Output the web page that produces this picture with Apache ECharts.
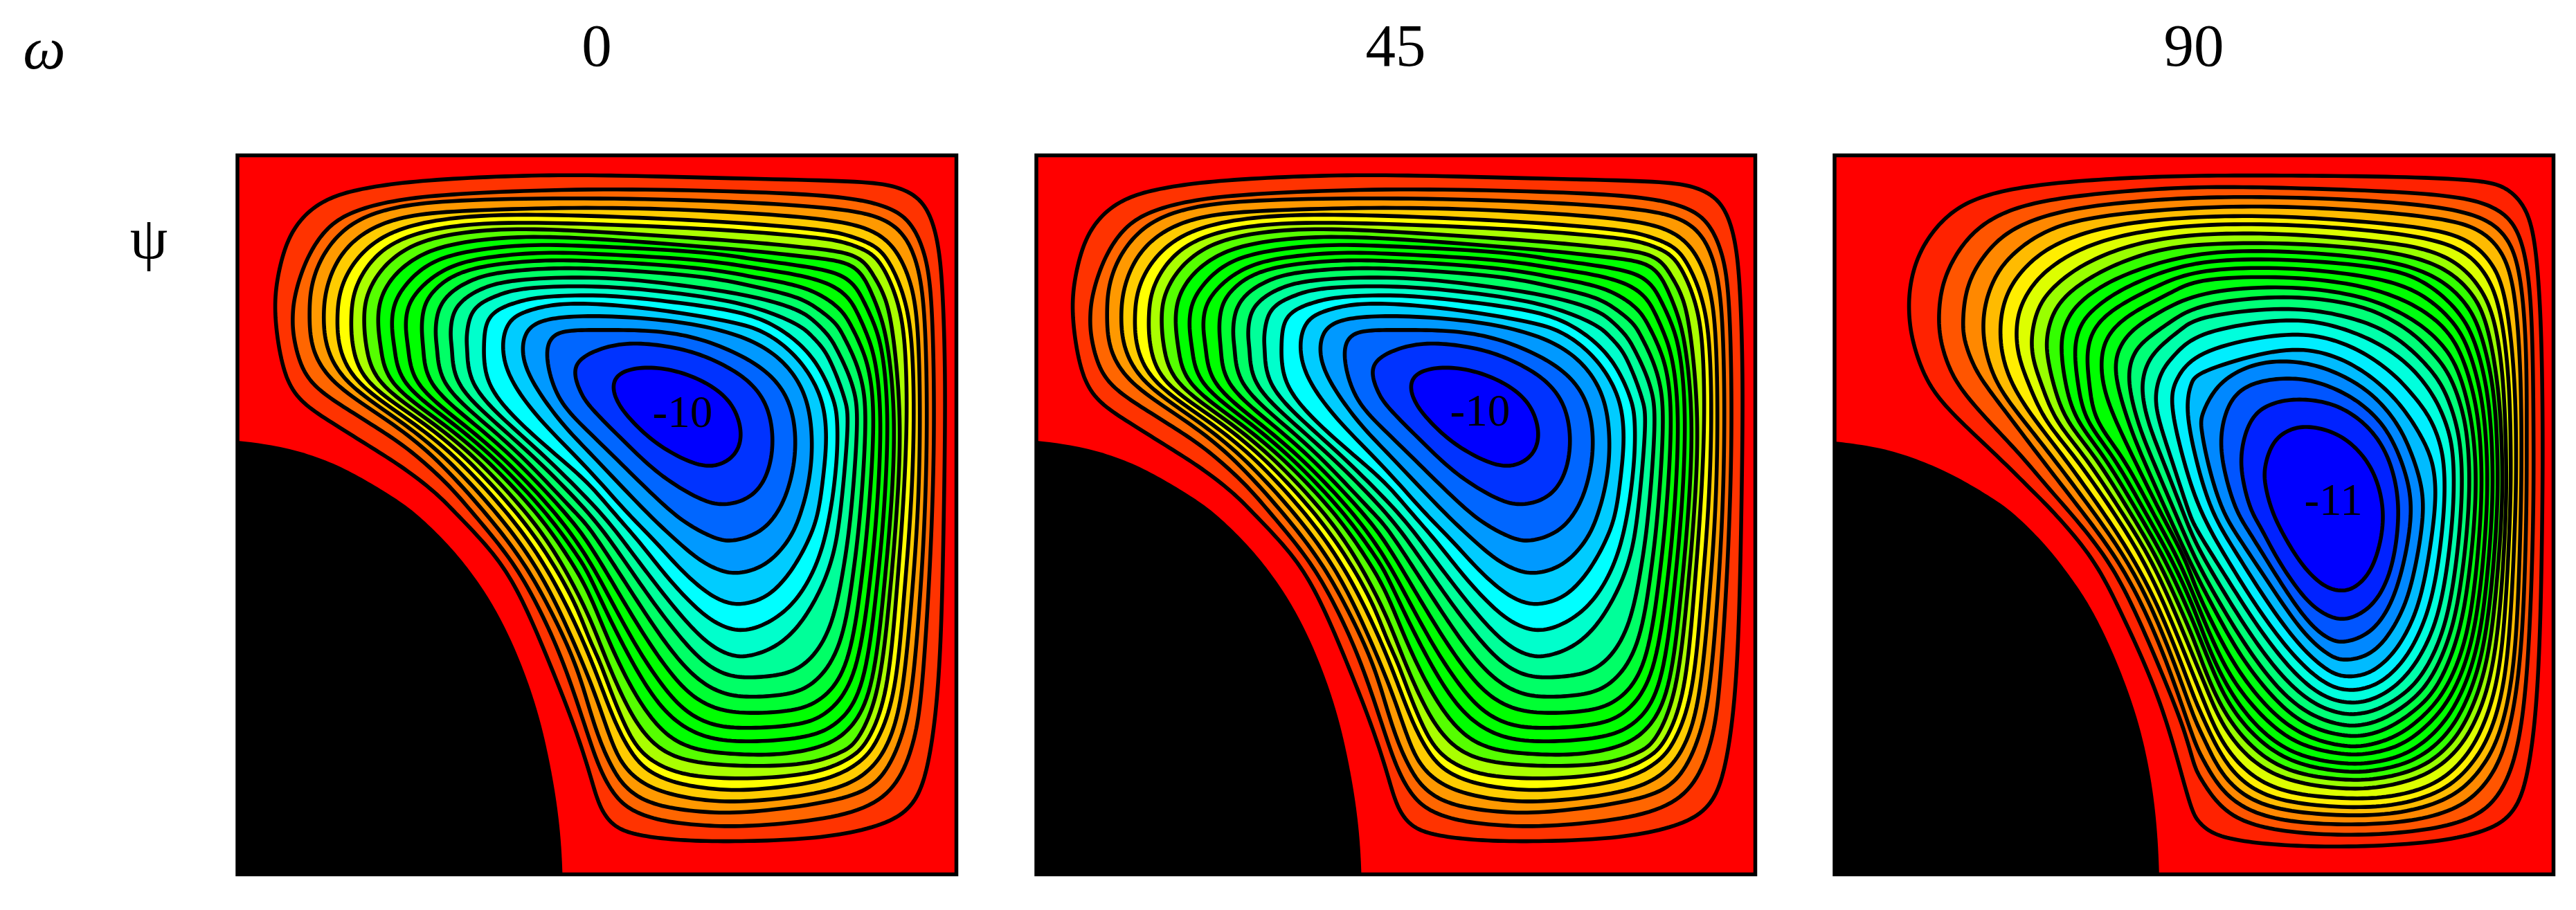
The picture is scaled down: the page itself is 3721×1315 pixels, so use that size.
<!DOCTYPE html>
<html>
<head>
<meta charset="utf-8">
<title>Stream function contours</title>
<script src="https://cdn.jsdelivr.net/npm/echarts@6/dist/echarts.min.js"></script>
<style>
html,body{margin:0;padding:0;background:#fff}
#main{width:3721px;height:1315px}
</style>
</head>
<body>
<div id="main"></div>
<script>
// labels
var omegaValues = ['0', '45', '90'];
var centreLabels = ['-10', '-10', '-11'];
var centreLabelAt = [[1929, 1127], [1929, 1120], [2162, 1506]];

// cavity units: 0..3116 across, 0..3117 down, points read off the picture clockwise
// outermost contour first, flat x,y lists
var body0 = [-3000,1200, -60,1232, 6,1237, 206,1262, 406,1327, 556,1407, 686,1487, 771,1547, 906,1676, 1006,1796, 1096,1926, 1186,2096, 1266,2296, 1326,2496, 1376,2746, 1401,2946, 1409,3106, 1410,3200, 1412,6000, -3000,6000];
var body45 = [-3000,1200, -54,1232, 12,1237, 212,1262, 412,1327, 562,1407, 692,1487, 777,1547, 912,1676, 1012,1796, 1102,1926, 1192,2096, 1272,2296, 1332,2496, 1382,2746, 1407,2946, 1415,3106, 1416,3200, 1418,6000, -3000,6000];
var body90 = [-3000,1200, -60,1232, 15,1242, 215,1267, 415,1337, 565,1412, 695,1492, 775,1548, 915,1686, 1015,1816, 1105,1946, 1195,2126, 1275,2326, 1335,2516, 1380,2746, 1400,2946, 1407,3106, 1408,3200, 1410,6000, -3000,6000];

var contours0 = [
[156,687, 171,527, 216,357, 296,247, 406,177, 566,137, 806,107, 1206,87, 1566,84, 2231,102, 2738,112, 2870,137, 2961,187, 3012,277, 3042,407, 3057,587, 3067,887, 3067,1187, 3062,1546, 3052,2046, 3032,2396, 2991,2676, 2930,2831, 2789,2911, 2535,2961, 2231,2974, 1977,2974, 1775,2956, 1653,2926, 1592,2866, 1556,2786, 1521,2656, 1451,2446, 1351,2196, 1246,1946, 1136,1746, 941,1546, 866,1467, 726,1357, 566,1257, 406,1157, 266,1067, 196,947],
[238,700, 246,607, 296,447, 386,307, 506,237, 706,187, 1006,162, 1566,142, 2231,157, 2636,177, 2829,222, 2920,287, 2981,417, 3012,607, 3022,1137, 3012,1546, 2996,1896, 2966,2346, 2936,2546, 2849,2771, 2636,2871, 2231,2911, 2028,2908, 1825,2886, 1693,2836, 1627,2766, 1572,2666, 1521,2521, 1416,2196, 1301,1946, 1186,1746, 1016,1546, 916,1427, 761,1287, 646,1207, 486,1107, 346,1017, 276,927, 241,787],
[311,687, 316,567, 366,427, 476,297, 646,227, 906,192, 1566,182, 2231,202, 2636,232, 2789,267, 2880,327, 2941,437, 2981,637, 2991,1139, 2981,1546, 2961,1896, 2925,2346, 2875,2546, 2789,2721, 2636,2796, 2231,2851, 2028,2851, 1805,2821, 1693,2756, 1633,2676, 1572,2546, 1521,2386, 1466,2196, 1346,1946, 1231,1746, 1074,1546, 841,1287, 636,1137, 401,987, 316,837],
[371,700, 381,577, 436,437, 546,327, 726,257, 1006,237, 1566,222, 2129,242, 2586,277, 2758,322, 2849,397, 2910,517, 2951,687, 2961,1139, 2951,1546, 2925,1896, 2885,2346, 2829,2546, 2743,2676, 2586,2761, 2231,2804, 2028,2801, 1825,2761, 1714,2696, 1643,2606, 1582,2426, 1521,2256, 1386,1946, 1274,1746, 1124,1546, 886,1287, 686,1137, 461,987, 381,837],
[431,700, 441,587, 496,467, 606,357, 786,287, 1106,252, 1566,262, 2129,287, 2535,322, 2636,342, 2748,382, 2804,427, 2854,517, 2895,627, 2925,787, 2935,1139, 2920,1546, 2890,1896, 2854,2346, 2773,2546, 2707,2631, 2555,2716, 2231,2754, 2079,2751, 1906,2726, 1785,2676, 1714,2606, 1643,2476, 1582,2316, 1521,2156, 1426,1946, 1316,1746, 1171,1546, 931,1287, 731,1137, 506,987, 436,837],
[491,710, 501,587, 566,467, 666,377, 836,317, 1106,287, 1566,297, 2129,322, 2535,357, 2636,377, 2728,412, 2778,452, 2824,532, 2864,637, 2895,787, 2905,1139, 2885,1546, 2857,1896, 2819,2346, 2733,2546, 2667,2611, 2515,2681, 2231,2706, 1977,2696, 1845,2656, 1754,2596, 1693,2506, 1622,2336, 1572,2196, 1521,2091, 1468,1946, 1356,1746, 1214,1546, 971,1287, 776,1137, 546,987, 496,837],
[546,710, 556,607, 616,497, 716,407, 866,347, 1156,312, 1566,330, 2231,375, 2434,397, 2636,417, 2717,457, 2758,522, 2804,602, 2839,727, 2880,1139, 2859,1546, 2829,1896, 2783,2346, 2687,2546, 2626,2586, 2484,2641, 2231,2651, 1977,2636, 1835,2586, 1734,2476, 1653,2316, 1582,2146, 1521,1986, 1396,1746, 1256,1546, 1011,1287, 816,1137, 596,987, 556,837],
[606,725, 616,617, 676,517, 776,437, 916,382, 1206,347, 1566,360, 2231,412, 2434,437, 2636,457, 2702,507, 2738,572, 2778,667, 2819,797, 2854,1139, 2834,1546, 2801,1896, 2753,2346, 2647,2506, 2535,2566, 2383,2596, 2231,2601, 1998,2586, 1866,2526, 1764,2406, 1673,2246, 1592,2066, 1521,1886, 1438,1746, 1301,1546, 1051,1287, 856,1137, 646,987, 621,837],
[666,740, 676,637, 736,547, 826,467, 966,417, 1256,382, 1566,395, 2028,417, 2231,450, 2434,477, 2606,507, 2677,562, 2712,627, 2758,722, 2799,847, 2824,1139, 2804,1546, 2773,1866, 2718,2326, 2606,2466, 2484,2526, 2211,2546, 2028,2531, 1886,2451, 1785,2326, 1693,2166, 1602,1986, 1521,1811, 1481,1746, 1341,1546, 1091,1287, 901,1137, 701,987, 681,837],
[726,745, 736,647, 796,567, 886,497, 1016,447, 1306,417, 1566,427, 2028,452, 2231,487, 2434,517, 2576,557, 2652,617, 2687,682, 2728,772, 2768,887, 2794,1139, 2773,1546, 2743,1846, 2687,2266, 2570,2416, 2454,2471, 2211,2486, 2058,2476, 1927,2406, 1815,2266, 1714,2106, 1612,1916, 1521,1746, 1381,1546, 1131,1287, 941,1137, 756,987, 741,837],
[796,750, 806,647, 856,577, 936,517, 1066,477, 1306,452, 1566,457, 2028,487, 2231,527, 2434,562, 2545,612, 2621,672, 2657,732, 2702,822, 2743,937, 2763,1139, 2738,1546, 2707,1836, 2652,2226, 2535,2366, 2413,2411, 2211,2421, 2079,2406, 1957,2341, 1845,2206, 1734,2036, 1622,1846, 1521,1676, 1421,1546, 1176,1287, 991,1137, 816,987, 806,837],
[856,770, 866,667, 916,597, 996,547, 1106,507, 1356,487, 1566,490, 2028,522, 2231,567, 2434,612, 2520,667, 2596,727, 2626,782, 2672,872, 2712,987, 2728,1139, 2702,1546, 2672,1796, 2621,2146, 2494,2306, 2373,2341, 2211,2351, 2099,2336, 1987,2271, 1876,2146, 1754,1966, 1633,1776, 1521,1606, 1461,1546, 1221,1287, 1041,1137, 876,987, 866,837],
[921,780, 931,677, 986,617, 1056,577, 1176,537, 1566,522, 1927,562, 2231,607, 2434,667, 2500,717, 2565,782, 2596,837, 2641,927, 2677,1027, 2692,1139, 2662,1546, 2631,1776, 2576,2066, 2464,2216, 2352,2256, 2211,2266, 2119,2256, 2018,2201, 1906,2076, 1785,1916, 1653,1721, 1526,1546, 1266,1287, 1091,1137, 936,987, 931,837],
[991,790, 1006,687, 1056,637, 1126,607, 1226,572, 1566,562, 1927,597, 2231,647, 2434,732, 2484,777, 2540,837, 2570,892, 2606,977, 2636,1067, 2652,1139, 2616,1546, 2586,1736, 2525,1896, 2434,2046, 2332,2136, 2211,2176, 2140,2171, 2048,2126, 1947,2026, 1825,1876, 1683,1686, 1577,1546, 1316,1287, 1141,1137, 1001,987, 996,837],
[1066,820, 1076,717, 1126,667, 1206,637, 1306,612, 1566,602, 1825,627, 2129,667, 2292,712, 2434,807, 2525,917, 2586,1057, 2601,1137, 2601,1287, 2586,1437, 2570,1546, 2535,1716, 2464,1876, 2363,1996, 2211,2071, 2099,2046, 1998,1976, 1866,1836, 1744,1676, 1627,1546, 1521,1417, 1366,1287, 1196,1137, 1071,987],
[1146,850, 1156,757, 1196,697, 1276,667, 1386,642, 1566,642, 1825,667, 2129,717, 2282,757, 2413,857, 2494,967, 2545,1087, 2555,1237, 2540,1387, 2520,1546, 2484,1656, 2403,1806, 2302,1916, 2200,1946, 2140,1946, 2058,1916, 1937,1816, 1815,1676, 1683,1546, 1521,1357, 1296,1137, 1176,967],
[1231,870, 1241,777, 1286,727, 1376,702, 1566,692, 1927,717, 2180,777, 2332,857, 2434,972, 2484,1107, 2494,1287, 2474,1437, 2444,1546, 2403,1656, 2302,1776, 2180,1816, 2099,1806, 1998,1756, 1876,1646, 1769,1546, 1521,1282, 1406,1167, 1276,987],
[1336,890, 1346,797, 1406,757, 1566,757, 1825,757, 2028,797, 2231,887, 2352,987, 2413,1117, 2423,1287, 2393,1437, 2347,1546, 2271,1636, 2150,1676, 2079,1666, 1977,1616, 1876,1546, 1704,1377, 1521,1197, 1386,1067],
[1456,947, 1476,877, 1622,817, 1775,812, 1977,847, 2129,917, 2231,987, 2302,1087, 2327,1237, 2302,1387, 2231,1487, 2109,1522, 2008,1497, 1825,1387, 1673,1237, 1521,1087, 1486,1027],
[1622,997, 1653,937, 1775,912, 1927,937, 2058,997, 2150,1077, 2190,1197, 2170,1287, 2109,1337, 2038,1352, 1947,1327, 1805,1247, 1693,1137, 1643,1067]
];

var contours90 = [
[320,682, 325,562, 360,432, 435,312, 545,212, 715,152, 965,117, 1265,97, 1575,87, 1960,87, 2460,92, 2810,107, 2910,137, 2980,202, 3025,302, 3050,502, 3065,802, 3070,1202, 3068,1546, 3060,2046, 3040,2446, 3000,2716, 2950,2846, 2850,2926, 2610,2981, 2210,3001, 1910,2991, 1710,2966, 1620,2931, 1575,2886, 1545,2841, 1455,2496, 1365,2246, 1235,1966, 1125,1746, 950,1546, 865,1462, 715,1312, 575,1182, 455,1062, 385,952, 335,802],
[450,682, 465,562, 515,442, 605,322, 735,242, 915,192, 1215,157, 1575,134, 1960,140, 2460,157, 2730,182, 2860,222, 2950,292, 3000,442, 3025,702, 3030,1202, 3030,1546, 3015,2046, 2990,2396, 2950,2626, 2880,2786, 2760,2886, 2510,2936, 2210,2951, 1910,2931, 1730,2876, 1640,2786, 1590,2706, 1560,2656, 1520,2496, 1420,2246, 1300,1966, 1185,1746, 1020,1546, 935,1452, 810,1302, 705,1192, 585,1062, 505,952, 455,802],
[555,722, 565,602, 605,492, 695,372, 815,292, 1015,232, 1265,202, 1575,180, 1960,180, 2360,197, 2660,227, 2820,272, 2910,342, 2970,472, 3000,802, 3000,1202, 3000,1546, 2985,2046, 2955,2346, 2910,2556, 2850,2696, 2730,2826, 2510,2891, 2210,2906, 1910,2886, 1740,2816, 1650,2716, 1590,2606, 1560,2546, 1460,2246, 1345,1966, 1225,1746, 1075,1546, 885,1302, 765,1142, 665,1012, 605,922, 560,802],
[640,742, 655,622, 705,502, 785,412, 915,322, 1115,262, 1575,222, 1960,220, 2360,242, 2660,277, 2790,317, 2880,392, 2945,532, 2975,902, 2978,1302, 2975,1546, 2960,2046, 2930,2326, 2880,2526, 2810,2656, 2690,2786, 2460,2856, 2210,2866, 1910,2841, 1750,2766, 1660,2656, 1600,2526, 1560,2446, 1490,2246, 1380,1966, 1263,1746, 1123,1546, 940,1302, 820,1152, 705,1002, 655,862],
[715,752, 730,642, 775,542, 865,442, 995,362, 1215,297, 1575,262, 1960,262, 2360,292, 2620,322, 2760,372, 2850,462, 2910,592, 2950,952, 2955,1302, 2952,1546, 2930,2046, 2900,2316, 2845,2506, 2770,2636, 2650,2756, 2440,2821, 2210,2831, 1910,2801, 1760,2716, 1670,2596, 1600,2446, 1560,2356, 1520,2246, 1410,1966, 1295,1746, 1165,1546, 990,1302, 870,1152, 770,1002, 725,872],
[785,762, 800,662, 855,562, 935,482, 1065,402, 1265,337, 1575,297, 1960,297, 2360,327, 2590,362, 2730,412, 2820,502, 2885,642, 2925,952, 2932,1302, 2930,1546, 2905,2046, 2870,2306, 2810,2486, 2735,2616, 2610,2731, 2410,2786, 2210,2791, 1940,2766, 1780,2676, 1670,2536, 1600,2366, 1560,2266, 1440,1966, 1335,1746, 1210,1546, 1040,1302, 910,1152, 845,1002, 795,872],
[850,792, 875,672, 925,592, 1015,512, 1135,442, 1315,377, 1575,337, 1960,337, 2360,372, 2560,402, 2700,462, 2795,562, 2860,692, 2900,952, 2912,1302, 2912,1546, 2885,1996, 2845,2276, 2780,2456, 2700,2586, 2570,2691, 2380,2741, 2210,2751, 1960,2716, 1800,2626, 1680,2476, 1610,2306, 1560,2186, 1470,1966, 1370,1746, 1245,1546, 1085,1302, 955,1152, 900,1002, 860,892],
[915,802, 940,692, 995,612, 1085,542, 1215,472, 1385,412, 1575,382, 1960,377, 2360,407, 2560,452, 2680,512, 2770,602, 2830,722, 2880,1002, 2895,1302, 2895,1546, 2860,1996, 2820,2246, 2750,2436, 2665,2566, 2540,2661, 2360,2706, 2210,2711, 1980,2681, 1820,2586, 1690,2426, 1610,2246, 1560,2106, 1500,1966, 1400,1746, 1280,1546, 1130,1302, 1000,1152, 950,1002, 925,892],
[975,812, 1005,712, 1055,642, 1145,572, 1285,502, 1575,414, 1960,412, 2360,447, 2530,492, 2650,552, 2740,642, 2800,752, 2860,1002, 2875,1302, 2875,1546, 2840,1976, 2795,2226, 2720,2416, 2635,2536, 2510,2631, 2340,2671, 2210,2676, 1990,2641, 1830,2536, 1700,2376, 1620,2186, 1560,2036, 1530,1966, 1431,1746, 1313,1546, 1170,1302, 1045,1152, 1000,1002],
[1035,832, 1065,732, 1115,672, 1205,602, 1345,532, 1575,452, 1960,447, 2360,482, 2510,522, 2620,592, 2710,682, 2775,792, 2835,1022, 2853,1302, 2853,1546, 2818,1966, 2770,2206, 2695,2386, 2605,2506, 2480,2601, 2330,2636, 2210,2641, 2000,2606, 1840,2496, 1710,2326, 1620,2136, 1560,1966, 1460,1746, 1345,1546, 1210,1302, 1085,1152, 1055,1002],
[1090,862, 1115,762, 1175,692, 1265,632, 1405,562, 1575,492, 1960,482, 2310,522, 2480,567, 2590,632, 2685,722, 2750,832, 2810,1052, 2830,1302, 2830,1546, 2795,1946, 2745,2186, 2670,2356, 2580,2466, 2460,2561, 2320,2596, 2210,2601, 2010,2561, 1860,2446, 1720,2276, 1630,2086, 1560,1916, 1489,1746, 1377,1546, 1250,1302, 1125,1152, 1105,1002],
[1150,892, 1175,792, 1235,722, 1325,662, 1465,592, 1575,532, 1960,522, 2260,557, 2440,612, 2570,682, 2660,762, 2725,872, 2785,1082, 2805,1302, 2805,1546, 2770,1936, 2720,2166, 2640,2336, 2550,2436, 2440,2521, 2310,2561, 2210,2566, 2030,2521, 1880,2406, 1740,2226, 1640,2036, 1560,1866, 1520,1746, 1410,1546, 1290,1302, 1170,1052],
[1205,932, 1235,822, 1295,752, 1385,692, 1575,587, 1960,562, 2260,602, 2420,662, 2540,732, 2630,812, 2700,912, 2755,1102, 2780,1302, 2780,1546, 2740,1926, 2690,2136, 2610,2316, 2520,2406, 2410,2481, 2310,2516, 2210,2521, 2040,2476, 1900,2356, 1760,2176, 1650,1976, 1560,1806, 1440,1546, 1330,1302, 1270,1152],
[1265,962, 1295,852, 1355,792, 1455,722, 1575,642, 1960,602, 2260,642, 2400,702, 2510,772, 2600,862, 2670,952, 2730,1122, 2752,1302, 2752,1546, 2710,1916, 2660,2116, 2580,2286, 2490,2376, 2380,2446, 2290,2471, 2210,2476, 2060,2431, 1920,2316, 1780,2126, 1660,1926, 1560,1746, 1475,1546, 1370,1302, 1310,1152],
[1325,1002, 1355,892, 1415,822, 1505,752, 1575,697, 1960,652, 2210,692, 2380,752, 2490,832, 2570,912, 2640,1002, 2695,1152, 2720,1302, 2720,1546, 2680,1896, 2630,2096, 2550,2256, 2460,2346, 2350,2406, 2280,2421, 2210,2426, 2080,2386, 1940,2266, 1800,2076, 1670,1866, 1560,1676, 1510,1546, 1415,1302, 1355,1152],
[1385,1042, 1415,932, 1475,862, 1575,762, 1960,702, 2160,732, 2340,802, 2460,882, 2540,962, 2610,1062, 2660,1182, 2685,1302, 2685,1546, 2645,1876, 2595,2066, 2515,2216, 2420,2316, 2310,2371, 2210,2376, 2100,2341, 1970,2226, 1820,2026, 1690,1816, 1560,1611, 1535,1546, 1455,1302, 1405,1152],
[1450,1062, 1480,962, 1575,842, 1960,762, 2160,792, 2310,862, 2430,952, 2510,1042, 2580,1132, 2625,1242, 2645,1352, 2645,1546, 2605,1866, 2550,2046, 2475,2186, 2380,2281, 2290,2316, 2210,2321, 2120,2291, 1990,2176, 1840,1976, 1710,1766, 1580,1546, 1505,1302],
[1520,1092, 1545,982, 1575,937, 1960,822, 2160,862, 2290,932, 2390,1012, 2470,1102, 2535,1202, 2585,1302, 2605,1402, 2605,1546, 2560,1846, 2510,2016, 2430,2156, 2340,2236, 2270,2258, 2210,2261, 2140,2241, 2010,2126, 1860,1916, 1730,1706, 1630,1546, 1560,1302],
[1585,1172, 1590,1122, 1660,982, 1810,902, 1960,887, 2110,912, 2260,982, 2360,1062, 2440,1162, 2490,1262, 2540,1402, 2560,1546, 2510,1836, 2460,1986, 2380,2116, 2300,2176, 2210,2191, 2150,2176, 2030,2076, 1890,1866, 1750,1656, 1680,1546, 1620,1352],
[1665,1222, 1710,1052, 1810,982, 1960,962, 2090,977, 2240,1042, 2350,1132, 2420,1232, 2480,1382, 2510,1546, 2460,1816, 2400,1976, 2320,2076, 2210,2116, 2140,2101, 2040,2016, 1910,1816, 1800,1636, 1740,1546, 1690,1382],
[1755,1292, 1800,1132, 1890,1072, 2010,1052, 2160,1072, 2280,1142, 2370,1242, 2425,1372, 2453,1546, 2420,1796, 2350,1936, 2270,1996, 2200,2016, 2130,1996, 2040,1931, 1920,1756, 1850,1616, 1805,1546, 1770,1422],
[1860,1352, 1900,1232, 1980,1182, 2060,1172, 2180,1202, 2280,1282, 2350,1392, 2385,1546, 2365,1696, 2320,1816, 2250,1881, 2190,1891, 2120,1871, 2030,1786, 1950,1656, 1895,1546, 1865,1432]
];

// 45 degree panel reads the same as 0 within what the picture can resolve,
// only sitting a touch further left in its frame (see axisStart)
var contours45 = contours0;
var axisStart = [0, 6, 0];

// colour inside each contour, outermost first
var fill20 = ['#ff3300','#ff6600','#ff9900','#ffcc00','#ffff00','#aaff00','#55ff00','#00ff00','#00ff00','#00ff00','#00ff33','#00ff66','#00ff99','#00ffcc','#00ffff','#00ccff','#0099ff','#0066ff','#0033ff','#0000ff'];
var fill22 = ['#ff2200','#ff5500','#ff8800','#ffbb00','#ffee00','#ddff00','#99ff00','#33ff00','#00ff00','#00ff00','#00ff00','#00ff11','#00ff44','#00ff77','#00ffaa','#00ffdd','#00eeff','#00bbff','#0088ff','#0055ff','#0022ff','#0000ff'];

var gridLefts = [343, 1497, 2650];
var panels = [
	{body: body0, lines: contours0, fills: fill20},
	{body: body45, lines: contours45, fills: fill20},
	{body: body90, lines: contours90, fills: fill22}
];

// closed cubic b-spline through the read points, hand readings are too jittery for a plain spline
function toPoints(flat, api)
{
	var n = flat.length / 2, out = [];
	for(var i = 0; i < n; i++){
		var a = (i - 1 + n) % n, b = i, c = (i + 1) % n, d = (i + 2) % n;
		for(var s = 0; s < 10; s++){
			var t = s / 10, t2 = t * t, t3 = t2 * t;
			var wa = (1 - 3*t + 3*t2 - t3) / 6, wb = (4 - 6*t2 + 3*t3) / 6, wc = (1 + 3*t + 3*t2 - 3*t3) / 6, wd = t3 / 6;
			out.push(api.coord([
				wa*flat[2*a] + wb*flat[2*b] + wc*flat[2*c] + wd*flat[2*d],
				wa*flat[2*a+1] + wb*flat[2*b+1] + wc*flat[2*c+1] + wd*flat[2*d+1]
			]));
		}
	}
	return out;
}

var grids = [], xAxes = [], yAxes = [], series = [], texts = [];

panels.forEach(function(panel, p){
	var x0 = axisStart[p];
	grids.push({left: gridLefts[p], top: 224.5, width: 1038.5, height: 1039, show: true, backgroundColor: '#ff0000', borderWidth: 0});
	xAxes.push({type: 'value', gridIndex: p, min: x0, max: x0 + 3116, show: false});
	yAxes.push({type: 'value', gridIndex: p, min: 0, max: 3117, inverse: true, show: false});

	var items = panel.lines.map(function(c, i){ return [i]; });
	series.push({
		type: 'custom', xAxisIndex: p, yAxisIndex: p, silent: true, clip: true, z: 2,
		coordinateSystem: 'cartesian2d', animation: false,
		data: items,
		renderItem: function(params, api){
			var i = params.dataIndex;
			return {
				type: 'polygon',
				shape: {points: toPoints(panel.lines[i], api)},
				style: {fill: panel.fills[i], stroke: '#000', lineWidth: 5.6}
			};
		}
	});
	series.push({
		type: 'custom', xAxisIndex: p, yAxisIndex: p, silent: true, clip: true, z: 3,
		coordinateSystem: 'cartesian2d', animation: false,
		data: [[0]],
		renderItem: function(params, api){
			return {
				type: 'polygon',
				shape: {points: toPoints(panel.body, api)},
				style: {fill: '#000'}
			};
		}
	});
	series.push({
		type: 'custom', xAxisIndex: p, yAxisIndex: p, silent: true, clip: false, z: 4,
		coordinateSystem: 'cartesian2d', animation: false,
		data: [[0]],
		renderItem: function(params, api){
			var a = api.coord([x0, 0]), b = api.coord([x0 + 3116, 3117]);
			return {
				type: 'group',
				children: [
					{type: 'rect', shape: {x: a[0], y: a[1], width: b[0]-a[0], height: b[1]-a[1]}, style: {fill: 'none', stroke: '#000', lineWidth: 5.5}},
					{type: 'text', x: api.coord(centreLabelAt[p])[0], y: api.coord(centreLabelAt[p])[1],
					 style: {text: centreLabels[p], fill: '#000', font: '65px "Liberation Serif"', align: 'center', verticalAlign: 'middle'}}
				]
			};
		}
	});
	texts.push({type: 'text', x: gridLefts[p] + 519, y: 72, style: {text: omegaValues[p], fill: '#000', font: '87px "Liberation Serif"', align: 'center', verticalAlign: 'middle'}});
});

texts.push({type: 'text', x: 64, y: 76, style: {text: 'ω', fill: '#000', font: 'italic 87px "Liberation Serif"', align: 'center', verticalAlign: 'middle'}});
texts.push({type: 'text', x: 215, y: 350, style: {text: 'ψ', fill: '#000', font: '87px "Liberation Serif"', align: 'center', verticalAlign: 'middle'}});

var chart = echarts.init(document.getElementById('main'), null, {renderer: 'canvas'});
chart.setOption({
	animation: false,
	backgroundColor: '#fff',
	grid: grids,
	xAxis: xAxes,
	yAxis: yAxes,
	series: series,
	graphic: {elements: texts}
});
</script>
</body>
</html>
